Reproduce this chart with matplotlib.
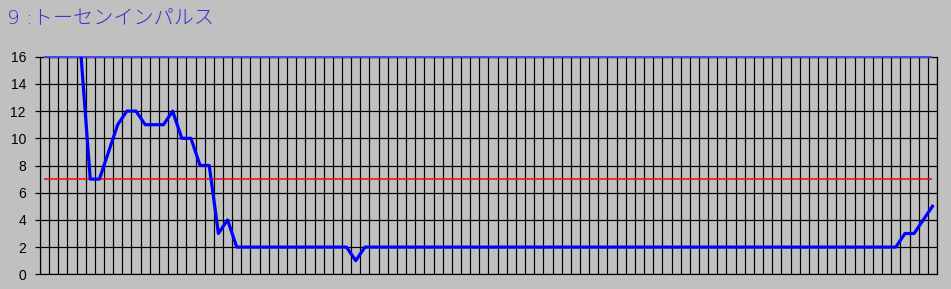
import numpy as np
import matplotlib
matplotlib.use("agg")
import matplotlib.pyplot as plt

title = u"9 :トーセンインパルス"
nan = np.nan
# one value per race index, first four are off the top of the chart
values = [nan, nan, nan, nan, 16, 7, 7, 9, 11, 12,
          12, 11, 11, 11, 12, 10, 10, 8, 8, 3,
          4, 2, 2, 2, 2, 2, 2, 2, 2, 2,
          2, 2, 2, 2, 1, 2, 2, 2, 2, 2,
          2, 2, 2, 2, 2, 2, 2, 2, 2, 2,
          2, 2, 2, 2, 2, 2, 2, 2, 2, 2,
          2, 2, 2, 2, 2, 2, 2, 2, 2, 2,
          2, 2, 2, 2, 2, 2, 2, 2, 2, 2,
          2, 2, 2, 2, 2, 2, 2, 2, 2, 2,
          2, 2, 2, 2, 3, 3, 4, 5]
upper_limit = 16
lower_limit = 7
yticks = [0, 2, 4, 6, 8, 10, 12, 14, 16]

bg = '#c0c0c0'
dpi = 100
W, H = 951, 289
fig = plt.figure(figsize=(W / dpi, H / dpi), dpi=dpi, facecolor=bg)
ax = fig.add_axes([39.9 / W, 14.7 / H, (937 - 39.9) / W, 217.6 / H], facecolor=bg)

x = np.arange(len(values))
px = 72.0 / dpi  # one pixel in points

ax.set_xlim(-0.5, len(values) - 0.5)
ax.set_ylim(0, 16)

# vertical grid between the points, horizontal every 2
ax.set_xticks(np.arange(-0.5, len(values), 1))
ax.set_xticklabels([])
ax.tick_params(axis='x', length=0)
ax.set_yticks(yticks)
ax.set_yticklabels([str(v) for v in yticks], fontsize=10, family='Liberation Sans')
ax.tick_params(axis='y', length=5 * px, width=1.2 * px, color='black', pad=9 * px)
ax.grid(True, color='black', linewidth=1.2 * px)
for s in ax.spines.values():
    s.set_color('black')
    s.set_linewidth(1.2 * px)

ax.hlines(upper_limit, x[0], x[-1], color='#4444f4', linewidth=2 * px, zorder=3, clip_on=False)
ax.hlines(lower_limit, x[0], x[-1], color='#ff0000', linewidth=1.5 * px, zorder=3)
ax.plot(x, values, color='#0000ff', linewidth=3.2 * px, zorder=4)

fig.text(7 / W, 1 - 24 / H, title, color='#3434d4', fontsize=14.5, fontweight='light',
         family=['DejaVu Sans', 'Noto Sans CJK JP'], va='baseline')

plt.savefig('out.png', dpi=dpi, facecolor=bg)
